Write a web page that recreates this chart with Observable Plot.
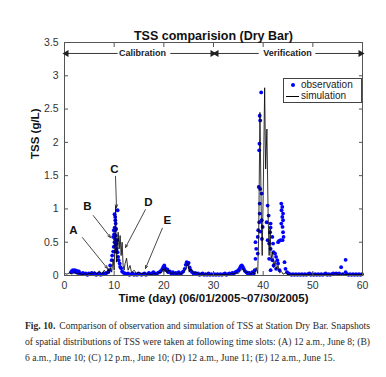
<!DOCTYPE html>
<html>
<head>
<meta charset="utf-8">
<script src="https://cdn.jsdelivr.net/npm/d3@7"></script>
<script src="https://cdn.jsdelivr.net/npm/@observablehq/plot@0.6"></script>
<style>
  html, body { margin: 0; padding: 0; background: #fff; }
  #wrap { position: relative; width: 386px; height: 377px; overflow: hidden; font-family: "Liberation Sans", Arial, sans-serif; }
  #chart { position: absolute; left: 0; top: 0; }
  #legend { position: absolute; left: 283px; top: 78px; width: 77px; height: 23px; border: 1px solid #444; background: #fff; font-size: 10px; color: #222; }
  #legend .row { position: absolute; left: 0; height: 12px; line-height: 12px; }
  #legend .sym { position: absolute; left: 2px; width: 13px; height: 12px; }
  #legend .lab { position: absolute; left: 17px; white-space: nowrap; }
  #caption { position: absolute; left: 25px; top: 318px; width: 345px; font-family: "Liberation Serif", "DejaVu Serif", serif; font-size: 9.6px; line-height: 16px; color: #2a2a2a; }
  #caption .line { white-space: nowrap; height: 16px; text-align: justify; text-align-last: justify; }
  #caption .line.last { text-align: left; text-align-last: left; }
  #caption .lead { font-weight: bold; margin-right: 4px; }
</style>
</head>
<body>
<div id="wrap">
  <div id="chart"></div>
  <div id="legend"></div>
  <div id="caption"></div>
</div>
<script>
// ---------- data ----------
const titleText = "TSS comparision (Dry Bar)";
const xLabel = "Time (day) (06/01/2005~07/30/2005)";
const yLabel = "TSS (g/L)";
const xTicks = [0, 10, 20, 30, 40, 50, 60];
const yTicks = [0, 0.5, 1, 1.5, 2, 2.5, 3, 3.5];
const seriesNames = ["observation", "simulation"];

// observations [day, TSS g/L] -- calibration period
const obsCalibration = [
  [1.3,.05],[1.5,.07],[1.7,.08],[1.9,.06],[2.1,.08],[2.3,.05],[2.5,.07],[2.7,.04],[2.9,.06],[3.1,.03],
  [3.4,.02],[3.7,.04],[4.0,.02],[4.3,.03],[4.6,.01],[4.9,.03],[5.2,.02],[5.5,.04],[5.8,.02],[6.1,.03],
  [6.4,.01],[6.7,.02],[7.0,.03],[7.3,.01],[7.6,.02],[7.9,.03],[8.2,.02],[8.5,.04],[8.8,.05],[9.0,.08],
  [9.2,.15],[9.5,.23],[9.6,.30],[9.8,.36],[9.8,.58],[9.9,.43],[9.93,.68],[10.07,.92],[10.07,.50],[10.2,.88],
  [10.2,.68],[10.2,.45],[10.23,.83],[10.3,.78],[10.3,.60],[10.3,.36],[10.5,.40],[10.6,.53],[10.7,.98],[10.7,.35],
  [10.8,.28],[10.9,.23],[11.1,.18],[11.2,.13],[11.4,.11],[10.0,.62],[10.1,.72],[10.4,.70],[10.15,.55],[10.45,.48],
  [11.6,.06],[11.9,.04],[12.2,.03],[12.5,.02],[12.8,.03],[13.1,.01],[13.4,.02],[13.7,.03],[14.0,.01],[14.3,.02],
  [14.6,.01],[14.9,.03],[15.2,.02],[15.5,.01],[15.8,.02],[16.1,.03],[16.4,.01],[16.7,.02],[17.0,.04],[17.3,.02],
  [17.6,.03],[17.9,.05],[18.2,.03],[18.5,.02],[18.8,.04],[19.1,.05],[19.4,.07],[19.7,.10],[19.9,.13],[20.1,.15],
  [20.3,.11],[20.5,.08],[20.7,.09],[20.9,.05],[21.2,.06],[21.5,.03],[21.8,.05],[22.1,.02],[22.4,.04],[22.7,.03],
  [23.0,.05],[23.3,.02],[23.6,.04],[23.9,.06],[24.2,.10],[24.4,.16],[24.6,.20],[24.8,.17],[25.0,.19],[25.2,.12],
  [25.4,.08],[25.7,.05],[26.0,.03],[26.3,.04],[26.6,.02],[26.9,.03],[27.2,.01],[27.5,.02],[27.8,.03],[28.1,.01],
  [28.4,.02],[28.7,.01],[29.0,.03],[29.3,.01],[29.6,.02],[29.9,.01]
];
// observations [day, TSS g/L] -- verification period
const obsVerification = [
  [30.2,.02],[30.5,.01],[30.8,.02],[31.1,.01],[31.4,.02],[31.7,.01],[32.0,.02],[32.3,.03],[32.6,.01],[32.9,.02],
  [33.2,.03],[33.5,.02],[33.8,.04],[34.1,.03],[34.4,.05],[34.7,.06],[35.0,.08],[35.3,.11],[35.5,.14],[35.7,.15],
  [35.9,.13],[36.1,.10],[36.3,.07],[36.6,.05],[36.9,.03],[37.2,.04],[37.5,.02],[37.8,.05],[38.1,.03],[38.3,.08],
  [38.45,.25],[38.45,.50],[38.6,.40],[38.9,.33],[38.9,.58],[39.0,.68],[39.1,1.33],[39.2,1.88],[39.2,.80],[39.25,1.98],
  [39.3,2.40],[39.3,1.08],[39.3,.93],[39.4,2.33],[39.4,1.30],[39.4,.66],[39.6,2.75],[39.7,1.23],[39.7,.83],[39.75,.55],
  [39.9,.73],[40.7,.80],[40.9,1.05],[40.9,.53],[41.1,.90],[41.2,.48],[41.2,.25],[41.4,.65],[41.5,.78],[41.5,.72],
  [41.5,.40],[41.5,.08],[41.85,.58],[41.85,.23],[42.0,.48],[42.1,.35],[42.1,.15],[42.4,.33],[42.6,.28],[42.6,.10],
  [42.85,.23],[43.0,.18],[43.0,.50],[43.2,.52],[43.3,.08],[43.5,.53],[43.65,1.08],[43.65,.78],[43.7,.98],[43.85,1.03],
  [43.85,.88],[43.9,.73],[43.9,.53],[44.0,.93],[44.0,.83],[44.0,.65],[44.1,.58],[44.3,.20],[44.5,.10],[44.8,.05],
  [45.1,.03],[45.4,.02],[45.7,.01],[46.0,.02],[46.3,.01],[46.6,.02],[46.9,.01],[47.2,.02],[47.5,.01],[47.8,.02],
  [48.1,.01],[48.4,.02],[48.7,.01],[49.0,.02],[49.3,.03],[49.6,.01],[49.9,.02],[50.2,.01],[50.5,.02],[50.8,.01],
  [51.1,.02],[51.4,.01],[51.7,.02],[52.0,.01],[52.3,.02],[52.6,.03],[52.9,.01],[53.2,.02],[53.5,.01],[53.8,.02],
  [54.1,.03],[54.4,.02],[54.7,.03],[55.0,.02],[55.3,.03],[55.7,.125],[56.0,.02],[56.6,.235],[56.6,.05],[56.9,.02],
  [57.2,.01],[57.5,.02],[57.8,.01],[58.1,.02],[58.4,.01],[58.7,.02],[59.0,.01],[59.3,.02],[59.6,.01],[59.9,.02]
];
// simulation [day, TSS g/L]
const simulation = [
  [0,.03],[0.5,.02],[1,.04],[1.5,.02],[2,.05],[2.5,.02],[3,.04],[3.5,.01],[4,.03],[4.5,.01],
  [5,.04],[5.5,.02],[6,.06],[6.5,.02],[7,.07],[7.5,.02],[8,.08],[8.5,.03],[8.8,.10],[9,.04],
  [9.3,.12],[9.5,.05],[9.8,.25],[10.0,.08],[10.15,.50],[10.3,1.05],[10.45,.20],[10.6,.35],[10.8,.65],[11.0,.40],
  [11.2,.60],[11.4,.30],[11.6,.50],[11.8,.15],[12.0,.08],[12.2,.18],[12.5,.26],[12.8,.08],[13.2,.15],[13.5,.04],
  [14,.08],[14.5,.03],[15,.05],[15.5,.02],[16,.04],[16.5,.02],[17,.03],[17.5,.01],[18,.03],[18.5,.02],
  [19,.05],[19.5,.04],[19.8,.10],[20,.05],[20.3,.12],[20.6,.04],[21,.08],[21.5,.02],[22,.05],[22.5,.02],
  [23,.04],[23.5,.02],[24,.06],[24.5,.10],[24.8,.20],[25.1,.05],[25.5,.10],[26,.03],[26.5,.05],[27,.02],
  [27.5,.03],[28,.01],[28.5,.03],[29,.01],[29.5,.02],[30,.01],[30.5,.02],[31,.01],[31.5,.02],[32,.01],
  [32.5,.02],[33,.01],[33.5,.03],[34,.02],[34.5,.04],[35,.03],[35.5,.08],[36,.10],[36.5,.04],[37,.06],
  [37.5,.02],[38,.05],[38.3,.02],[38.6,.12],[38.9,.03],[39.1,.60],[39.35,2.45],[39.6,1.00],[39.8,.30],[40.0,1.20],
  [40.3,2.82],[40.5,1.60],[40.75,2.20],[41.0,.90],[41.2,.30],[41.4,.70],[41.6,.25],[41.9,.35],[42.1,.12],[42.4,.22],
  [42.7,.10],[43.0,.15],[43.3,.04],[43.7,.06],[44,.02],[44.5,.04],[45,.01],[45.5,.02],[46,.01],[46.5,.02],
  [47,.01],[47.5,.02],[48,.01],[48.5,.02],[49,.01],[49.5,.02],[50,.01],[50.5,.02],[51,.01],[51.5,.02],
  [52,.01],[52.5,.02],[53,.01],[53.5,.02],[54,.01],[54.5,.03],[55,.02],[55.5,.01],[56,.03],[56.5,.01],
  [57,.02],[57.5,.01],[58,.02],[58.5,.01],[59,.02],[59.5,.01],[60,.02]
];

// period banner
const periodNames = ["Calibration", "Verification"];
const periodLabelX = [15.7, 44.9];
const bannerY = 3.335;
const bannerFrom = [10.7, 21.3, 39.1, 50.5];
const bannerTo   = [0.4, 29.8, 30.6, 59.6];

// annotated snapshots
const snapLabels = ["A", "B", "C", "D", "E"];
const snapTextX = [1.8, 4.6, 10.07, 16.9, 20.7];
const snapTextY = [0.68, 1.04, 1.59, 1.10, 0.83];
const snapFromX = [3.6, 5.8, 10.27, 16.3, 19.7];
const snapFromY = [0.57, 0.90, 1.49, 0.99, 0.71];
const snapToX   = [8.66, 9.26, 10.47, 12.28, 16.3];
const snapToY   = [0.105, 0.57, 1.02, 0.42, 0.105];

const captionLead = "Fig. 10.";
const captionLines = [
  "Comparison of observation and simulation of TSS at Station Dry Bar. Snapshots",
  "of spatial distributions of TSS were taken at following time slots: (A) 12 a.m., June 8; (B)",
  "6 a.m., June 10; (C) 12 p.m., June 10; (D) 12 a.m., June 11; (E) 12 a.m., June 15."
];

// ---------- build ----------
const obs = obsCalibration.concat(obsVerification).map(([d, v]) => ({day: d, tss: v}));
const sim = simulation.map(([d, v]) => ({day: d, tss: v}));
const banner = bannerFrom.map((f, i) => ({x1: f, x2: bannerTo[i], y: bannerY, dir: bannerTo[i] < f ? -90 : 90}));
const periods = periodNames.map((n, i) => ({name: n, x: periodLabelX[i], y: bannerY}));
const snaps = snapLabels.map((l, i) => ({
  label: l, tx: snapTextX[i], ty: snapTextY[i],
  x1: snapFromX[i], y1: snapFromY[i], x2: snapToX[i], y2: snapToY[i]
}));

const font = "'Liberation Sans', Arial, sans-serif";
const chart = Plot.plot({
  width: 386,
  height: 310,
  marginLeft: 64,
  marginRight: 24,
  marginTop: 42,
  marginBottom: 35,
  style: {fontFamily: font, fontSize: "10px", color: "#333", background: "transparent"},
  x: {domain: [0, 60]},
  y: {domain: [0, 3.5]},
  marks: [
    Plot.dot(obs, {x: "day", y: "tss", r: 1.9, fill: "#0000ff", stroke: "none"}),
    Plot.line(sim, {x: "day", y: "tss", stroke: "#000", strokeWidth: 0.8}),
    Plot.frame({stroke: "#555", strokeWidth: 1}),
    Plot.axisX({anchor: "bottom", ticks: xTicks, tickSize: -4, tickPadding: 10, label: null, stroke: "#555", fill: "#333", fontSize: 10.5}),
    Plot.axisX({anchor: "top", ticks: xTicks, tickSize: -4, tickFormat: () => "", label: null, stroke: "#555"}),
    Plot.axisY({anchor: "left", ticks: yTicks, tickSize: -4, tickPadding: 10, tickFormat: d => String(d), label: null, stroke: "#555", fill: "#333", fontSize: 10.5}),
    Plot.axisY({anchor: "right", ticks: yTicks, tickSize: -4, tickFormat: () => "", label: null, stroke: "#555"}),
    Plot.link(banner, {x1: "x1", x2: "x2", y1: "y", y2: "y", stroke: "#222", strokeWidth: 0.9}),
    Plot.dot(banner, {x: "x2", y: "y", symbol: "triangle", rotate: "dir", r: 2.6, fill: "#222", stroke: "none"}),
    Plot.text(periods, {x: "x", y: "y", text: "name", fontWeight: "bold", fontSize: 9, fill: "#222"}),
    Plot.arrow(snaps, {x1: "x1", y1: "y1", x2: "x2", y2: "y2", stroke: "#333", strokeWidth: 0.9, headLength: 5, headAngle: 45}),
    Plot.text(snaps, {x: "tx", y: "ty", text: "label", fontWeight: "bold", fontSize: 11.5, fill: "#111"}),
    Plot.text([titleText], {frameAnchor: "top", dy: -11, fontWeight: "bold", fontSize: 12.5, fill: "#111"}),
    Plot.text([xLabel], {frameAnchor: "bottom", dy: 26, fontWeight: "bold", fontSize: 11.5, fill: "#111"}),
    Plot.text([yLabel], {frameAnchor: "left", dx: -29, rotate: -90, fontWeight: "bold", fontSize: 11.5, fill: "#111"})
  ]
});
document.getElementById("chart").appendChild(chart);

// legend
const legend = document.getElementById("legend");
seriesNames.forEach((name, i) => {
  const row = document.createElement("div");
  row.className = "row";
  row.style.top = (i * 11) + "px";
  row.style.width = "77px";
  const sym = document.createElement("div");
  sym.className = "sym";
  if (i === 0) {
    sym.innerHTML = '<svg width="13" height="12"><circle cx="7" cy="6" r="2" fill="#0000ff"/></svg>';
  } else {
    sym.innerHTML = '<svg width="13" height="12"><line x1="0" x2="13" y1="6.5" y2="6.5" stroke="#000" stroke-width="1"/></svg>';
  }
  const lab = document.createElement("div");
  lab.className = "lab";
  lab.textContent = name;
  row.appendChild(sym);
  row.appendChild(lab);
  legend.appendChild(row);
});

// caption, one block per printed line
const cap = document.getElementById("caption");
captionLines.forEach((txt, i) => {
  const line = document.createElement("div");
  line.className = "line" + (i === captionLines.length - 1 ? " last" : "");
  if (i === 0) {
    const lead = document.createElement("span");
    lead.className = "lead";
    lead.textContent = captionLead;
    line.appendChild(lead);
  }
  const s = document.createElement("span");
  s.textContent = txt;
  line.appendChild(s);
  cap.appendChild(line);
});
</script>
</body>
</html>
